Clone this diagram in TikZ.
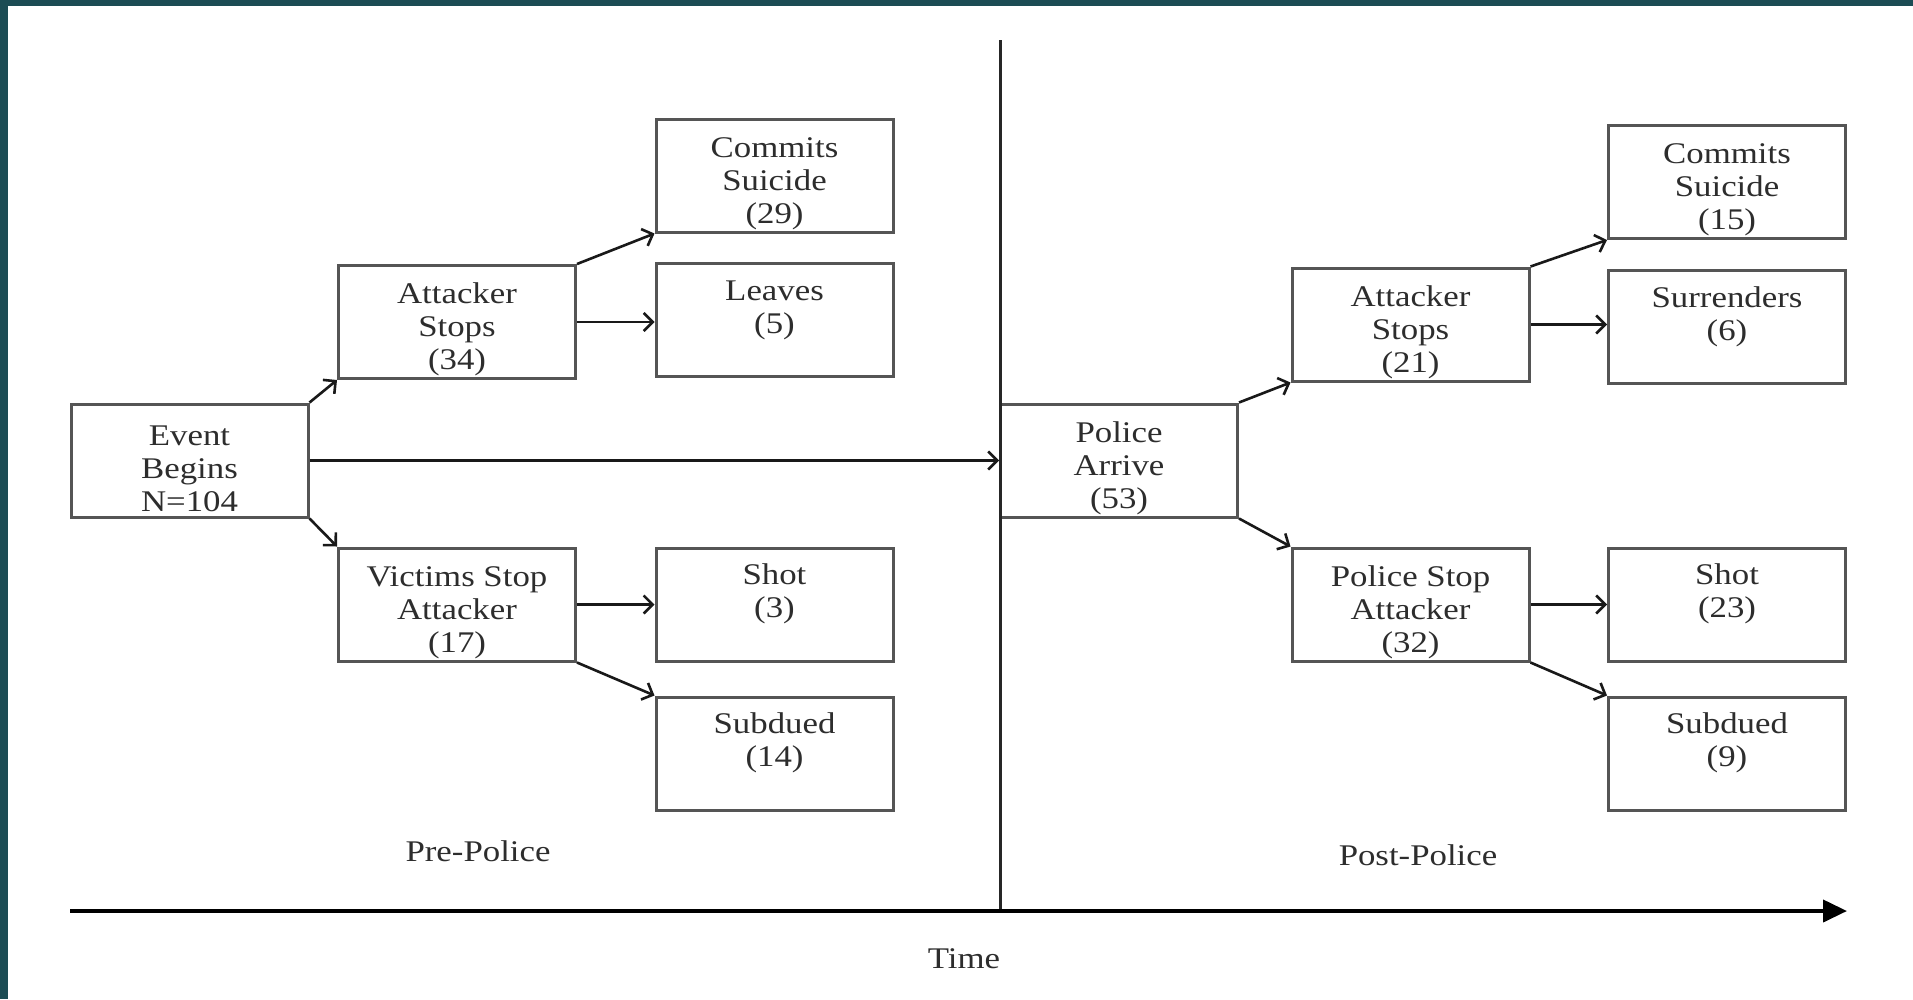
\documentclass[tikz,border=0pt]{standalone}
\usepackage{fontspec}
\setmainfont{Liberation Serif}[FakeStretch=1.16]
\usetikzlibrary{arrows.meta}
\definecolor{bordteal}{RGB}{28,76,84}
\definecolor{boxgray}{RGB}{85,85,85}
\definecolor{textgray}{RGB}{45,45,45}
\newcommand\tgap{\rule{0pt}{36pt}}
\begin{document}
\begin{tikzpicture}[x=1pt,y=-1pt,
  box/.style={draw=boxgray, line width=3pt, minimum width=237pt, minimum height=113pt,
    inner sep=0pt, align=center, text=textgray, font=\fontsize{30}{33}\selectfont},
  conn/.style={draw=black!90, line width=2.6pt,
    -{Straight Barb[length=9pt,width=18pt,line width=2.6pt]}},
  lbl/.style={text=textgray, font=\fontsize{30}{33}\selectfont, inner sep=0pt}]
\useasboundingbox (0,0) rectangle (1913,999);
\fill[white] (0,0) rectangle (1913,999);
% frame
\fill[bordteal] (0,0) rectangle (8,999);
\fill[bordteal] (0,0) rectangle (1913,6);
% boxes
\node[box] (event) at (189.5,460.5) {\tgap Event\\Begins\\N=104};
\node[box] (att1) at (457,322) {\tgap Attacker\\Stops\\(34)};
\node[box] (com1) at (774.5,175.5) {\tgap Commits\\Suicide\\(29)};
\node[box] (lea) at (774.5,320) {\tgap Leaves\\(5)\\\strut};
\node[box] (vic) at (457,604.5) {\tgap Victims Stop\\Attacker\\(17)};
\node[box] (shot1) at (774.5,604.5) {\tgap Shot\\(3)\\\strut};
\node[box] (sub1) at (774.5,753.5) {\tgap Subdued\\(14)\\\strut};
\node[box] (police) at (1119,460.5) {\tgap Police\\Arrive\\(53)};
\node[box] (att2) at (1410.5,324.5) {\tgap Attacker\\Stops\\(21)};
\node[box] (com2) at (1727,182) {\tgap Commits\\Suicide\\(15)};
\node[box] (sur) at (1727,327) {\tgap Surrenders\\(6)\\\strut};
\node[box] (pstop) at (1410.5,604.5) {\tgap Police Stop\\Attacker\\(32)};
\node[box] (shot2) at (1727,604.5) {\tgap Shot\\(23)\\\strut};
\node[box] (sub2) at (1727,753.5) {\tgap Subdued\\(9)\\\strut};
% labels
\node[lbl] (pre) at (478,851) {Pre-Police};
\node[lbl] (post) at (1418,855) {Post-Police};
\node[lbl] (time) at (964,959) {Time};
% time structure
\coordinate (vtop) at (1000,40);
\coordinate (vbot) at (1000,911);
\coordinate (tstart) at (70,911);
\coordinate (tend) at (1847,911);
\draw[line width=3pt, black!85] (vtop) -- (vbot);
\draw[line width=4pt, black, -{Triangle[length=24pt,width=22pt]}] (tstart) -- (tend);
% connectors
\draw[conn] (event.north east) -- (att1.south west);
\draw[conn] (event.south east) -- (vic.north west);
\draw[conn] (event.east) -- (police.west);
\draw[conn] (att1.north east) -- (com1.south west);
\draw[conn] (att1.east) -- (att1.east -| lea.west);
\draw[conn] (vic.east) -- (shot1.west);
\draw[conn] (vic.south east) -- (sub1.north west);
\draw[conn] (police.north east) -- (att2.south west);
\draw[conn] (police.south east) -- (pstop.north west);
\draw[conn] (att2.north east) -- (com2.south west);
\draw[conn] (att2.east) -- (att2.east -| sur.west);
\draw[conn] (pstop.east) -- (shot2.west);
\draw[conn] (pstop.south east) -- (sub2.north west);
\end{tikzpicture}
\end{document}
